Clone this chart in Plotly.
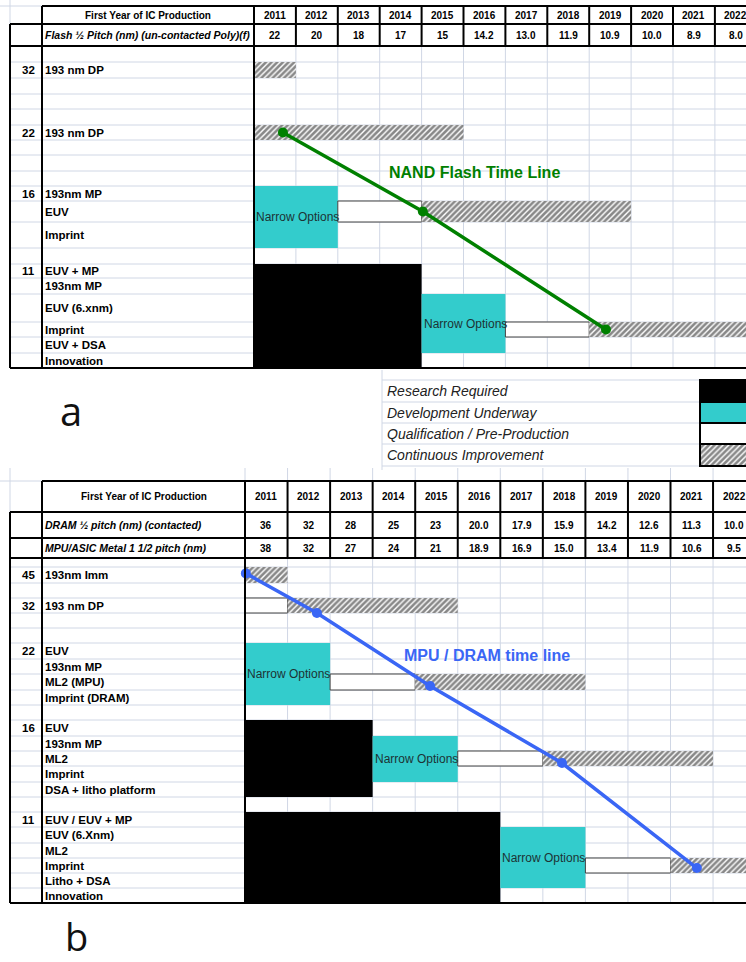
import plotly.graph_objects as go

W, H = 746, 962
FONT = "Liberation Sans, Arial, Helvetica, sans-serif"

# ------------------------------------------------------------------ data
YEARS = list(range(2011, 2023))
FLASH_HALF_PITCH = ["22", "20", "18", "17", "15", "14.2", "13.0", "11.9", "10.9", "10.0", "8.9", "8.0"]
DRAM_HALF_PITCH = ["36", "32", "28", "25", "23", "20.0", "17.9", "15.9", "14.2", "12.6", "11.3", "10.0"]
MPU_M1_HALF_PITCH = ["38", "32", "27", "24", "21", "18.9", "16.9", "15.0", "13.4", "11.9", "10.6", "9.5"]

# NAND flash option rows (node, option)
FLASH_NODES = ["", "32", "", "", "", "22", "", "", "", "16", "", "", "", "11", "", "", "", "", ""]
FLASH_OPTIONS = ["", "193 nm DP", "", "", "", "193 nm DP", "", "", "", "193nm MP", "EUV", "Imprint", "",
                 "EUV + MP", "193nm MP", "EUV (6.xnm)", "Imprint", "EUV + DSA", "Innovation"]

# MPU / DRAM option rows
MPU_NODES = ["", "45", "", "32", "", "", "22", "", "", "", "", "16", "", "", "", "", "",
             "11", "", "", "", "", ""]
MPU_OPTIONS = ["", "193nm Imm", "", "193 nm DP", "", "", "EUV", "193nm MP", "ML2 (MPU)", "Imprint (DRAM)", "",
               "EUV", "193nm MP", "ML2", "Imprint", "DSA + litho platform", "",
               "EUV / EUV + MP", "EUV (6.Xnm)", "ML2", "Imprint", "Litho + DSA", "Innovation"]

# status bars: (first row, last row, first year, last year, status)
FLASH_BARS = [
    (1, 1, 2011, 2011, "cont"),
    (5, 5, 2011, 2015, "cont"),
    (9, 11, 2011, 2012, "dev"),
    (10, 10, 2013, 2014, "qual"),
    (10, 10, 2015, 2019, "cont"),
    (13, 18, 2011, 2014, "res"),
    (15, 17, 2015, 2016, "dev"),
    (16, 16, 2017, 2018, "qual"),
    (16, 16, 2019, 2022, "cont"),
]
MPU_BARS = [
    (1, 1, 2011, 2011, "cont"),
    (3, 3, 2011, 2011, "qual"),
    (3, 3, 2012, 2015, "cont"),
    (6, 9, 2011, 2012, "dev"),
    (8, 8, 2013, 2014, "qual"),
    (8, 8, 2015, 2018, "cont"),
    (11, 15, 2011, 2013, "res"),
    (12, 14, 2014, 2015, "dev"),
    (13, 13, 2016, 2017, "qual"),
    (13, 13, 2018, 2021, "cont"),
    (17, 22, 2011, 2016, "res"),
    (18, 21, 2017, 2018, "dev"),
    (20, 20, 2019, 2020, "qual"),
    (20, 20, 2021, 2022, "cont"),
]

# time lines: year, option row, position inside the row
FLASH_TL_YEAR = [2011.69, 2015.03, 2019.40]
FLASH_TL_ROW = [5, 10, 16]
FLASH_TL_POS = [0.5, 0.5, 0.5]
MPU_TL_YEAR = [2011.02, 2012.69, 2015.35, 2018.45, 2021.62]
MPU_TL_ROW = [1, 3, 8, 13, 20]
MPU_TL_POS = [0.4, 1.0, 0.75, 0.8, 0.67]

STATUS_ORDER = ["res", "dev", "qual", "cont"]
STATUS_LABELS = ["Research Required", "Development Underway",
                 "Qualification / Pre-Production", "Continuous Improvement"]

# ------------------------------------------------------------------ layout
GRID = "#d0d7e5"
CYAN = "#33cccc"
HATCH = dict(shape="/", fgcolor="#111111", bgcolor="#ffffff", size=4, solidity=0.65)

PANEL_A = dict(xaxis="x", chart_x=254, col_w=41.9, head=[6, 24, 46],
               row_h=[16, 16, 16, 15, 16, 15, 15, 16, 15, 15, 21, 26, 16, 14, 16, 28, 15, 16, 15])
PANEL_B = dict(xaxis="x2", chart_x=245, col_w=42.55, head=[481, 512, 538, 558],
               row_h=[9, 16, 15, 15, 15, 15, 16, 15, 16, 15, 15, 16, 15, 15, 16, 15, 15, 15, 16, 15, 15, 15, 15])
OUTER_X, NODE_X = 10, 42

fig = go.Figure()
shapes, annos = [], []


def line(x0, y0, x1, y1, color="#000", width=2, xref="paper", layer="above"):
    if xref == "paper":
        x0, x1 = x0 / W, x1 / W
    shapes.append(dict(type="line", xref=xref, yref="y", x0=x0, x1=x1, y0=y0, y1=y1,
                       line=dict(color=color, width=width), layer=layer))


def text(x, y, s, size=11, bold=True, italic=False, anchor="center", color="#000", xref="paper", xshift=0):
    if xref == "paper":
        x = x / W
    annos.append(dict(x=x, y=y, xref=xref, yref="y", text=s, showarrow=False, xanchor=anchor,
                      yanchor="middle", xshift=xshift, borderpad=0,
                      font=dict(family=FONT, size=size, color=color,
                                weight="bold" if bold else "normal",
                                style="italic" if italic else "normal")))


def bar_marker(status):
    if status == "res":
        return dict(color="#000000", line=dict(width=0))
    if status == "dev":
        return dict(color=CYAN, line=dict(width=0))
    if status == "qual":
        return dict(color="#ffffff", line=dict(color="#404040", width=1))
    return dict(color="#ffffff", pattern=HATCH, line=dict(width=0))


def build_panel(p, header_rows, nodes, options, bars, tl_year, tl_row, tl_pos, tl_color, tl_label, tl_label_at):
    xa = p["xaxis"]
    head = p["head"]
    edges = [head[-1]]
    for h in p["row_h"]:
        edges.append(edges[-1] + h)
    top, body_top, bottom = head[0], head[-1], edges[-1]

    # light spreadsheet grid
    for y in edges[1:-1]:
        line(OUTER_X, y, W, y, GRID, 1, layer="below")
    for yr in YEARS[1:] + [YEARS[-1] + 1]:
        line(yr, body_top, yr, bottom, GRID, 1, xref=xa, layer="below")

    # status bars
    for st in STATUS_ORDER:
        sel = [b for b in bars if b[4] == st]
        fig.add_trace(go.Bar(
            orientation="h", xaxis=xa, yaxis="y",
            y=[(edges[b[0]] + edges[b[1] + 1]) / 2 for b in sel],
            width=[edges[b[1] + 1] - edges[b[0]] for b in sel],
            base=[b[2] for b in sel],
            x=[b[3] - b[2] + 1 for b in sel],
            marker=bar_marker(st), showlegend=False, hoverinfo="skip"))
        if st == "dev":
            for b in sel:
                text(b[2], (edges[b[0]] + edges[b[1] + 1]) / 2, "Narrow Options", size=12, bold=False,
                     anchor="left", color="#1d3334", xref=xa, xshift=1)

    # time line
    fig.add_trace(go.Scatter(
        x=tl_year, xaxis=xa, yaxis="y",
        y=[edges[r] + f * (edges[r + 1] - edges[r]) for r, f in zip(tl_row, tl_pos)],
        mode="lines+markers", line=dict(color=tl_color, width=3.5),
        marker=dict(color=tl_color, size=10), showlegend=False, hoverinfo="skip"))
    text(tl_label_at[0], tl_label_at[1], tl_label, size=16, color=tl_color, xref=xa)

    # header block
    label_mid = (NODE_X + p["chart_x"]) / 2
    for i, (label, vals) in enumerate(header_rows):
        yc = (head[i] + head[i + 1]) / 2
        if i == 0:
            text(label_mid, yc, label, size=10)
        else:
            text(NODE_X + 2, yc, label, size=10.5, italic=True, anchor="left")
        for yr, v in zip(YEARS, vals):
            text(yr + 0.5, yc, v, size=10, xref=xa)

    # option rows
    for i, (n, o) in enumerate(zip(nodes, options)):
        yc = (edges[i] + edges[i + 1]) / 2
        if n:
            text(36, yc, n, size=11.5, anchor="right")
        if o:
            text(NODE_X + 2, yc, o, size=11.5, anchor="left")

    # table borders
    for y in head:
        x0 = NODE_X if y == top else OUTER_X
        line(x0, y, W, y)
    line(OUTER_X, bottom, W, bottom)
    line(OUTER_X, head[1], OUTER_X, bottom)
    line(NODE_X, top, NODE_X, bottom)
    line(p["chart_x"], top, p["chart_x"], bottom)
    for yr in YEARS[1:] + [YEARS[-1] + 1]:
        line(yr, top, yr, body_top, xref=xa)
    return edges


build_panel(PANEL_A,
            [("First Year of IC Production", [str(y) for y in YEARS]),
             ("Flash ½ Pitch (nm) (un-contacted Poly)(f)", FLASH_HALF_PITCH)],
            FLASH_NODES, FLASH_OPTIONS, FLASH_BARS,
            FLASH_TL_YEAR, FLASH_TL_ROW, FLASH_TL_POS, "#008000",
            "NAND Flash Time Line", (2016.26, 172))

build_panel(PANEL_B,
            [("First Year of IC Production", [str(y) for y in YEARS]),
             ("DRAM ½ pitch (nm) (contacted)", DRAM_HALF_PITCH),
             ("MPU/ASIC Metal 1 1/2 pitch (nm)", MPU_M1_HALF_PITCH)],
            MPU_NODES, MPU_OPTIONS, MPU_BARS,
            MPU_TL_YEAR, MPU_TL_ROW, MPU_TL_POS, "#3a66f5",
            "MPU / DRAM time line", (2016.68, 655))

# spreadsheet grid outside the tables
line(OUTER_X, 0, OUTER_X, 24, GRID, 1, layer="below")
line(0, 6, NODE_X, 6, GRID, 1, layer="below")
line(OUTER_X, 468, OUTER_X, 512, GRID, 1, layer="below")
line(0, 481, NODE_X, 481, GRID, 1, layer="below")
for yr in YEARS:
    line(yr, 468, yr, 481, GRID, 1, xref="x2", layer="below")

# status key
KEY_X, KEY_SW, KEY_EDGES = 382, 700, [380, 402, 423, 444, 466]
line(KEY_X, 370, KEY_X, 470, GRID, 1, layer="below")
for y in KEY_EDGES:
    line(KEY_X, y, KEY_SW, y, GRID, 1, layer="below")
for i, (st, lab) in enumerate(zip(STATUS_ORDER, STATUS_LABELS)):
    yc = (KEY_EDGES[i] + KEY_EDGES[i + 1]) / 2
    mk = bar_marker(st)
    mk["line"] = dict(color="#000000", width=2)
    fig.add_trace(go.Bar(orientation="h", xaxis="x3", yaxis="y", y=[yc], base=[KEY_SW], x=[80],
                         width=[KEY_EDGES[i + 1] - KEY_EDGES[i]], marker=mk,
                         showlegend=False, hoverinfo="skip"))
    text(KEY_X + 4, yc, lab, size=14, bold=False, italic=True, anchor="left", color="#222222")

# panel letters
annos.append(dict(x=71 / W, y=410, xref="paper", yref="y", text="a", showarrow=False,
                  xanchor="center", yanchor="middle",
                  font=dict(family="Open Sans, Lato, sans-serif", size=40, color="#111111")))
annos.append(dict(x=76 / W, y=961, xref="paper", yref="y", text="b", showarrow=False,
                  xanchor="center", yanchor="bottom", yshift=-3,
                  font=dict(family="Open Sans, Lato, sans-serif", size=38, color="#111111")))

a_range = [2011 - PANEL_A["chart_x"] / PANEL_A["col_w"], 2011 + (W - PANEL_A["chart_x"]) / PANEL_A["col_w"]]
b_range = [2011 - PANEL_B["chart_x"] / PANEL_B["col_w"], 2011 + (W - PANEL_B["chart_x"]) / PANEL_B["col_w"]]
hidden = dict(visible=False, showgrid=False, zeroline=False, fixedrange=True, domain=[0, 1])

fig.update_layout(
    width=W, height=H, autosize=False,
    margin=dict(l=0, r=0, t=0, b=0, pad=0),
    paper_bgcolor="#ffffff", plot_bgcolor="#ffffff",
    barmode="overlay", showlegend=False,
    xaxis=dict(range=a_range, **hidden),
    xaxis2=dict(range=b_range, overlaying="x", anchor="y", **hidden),
    xaxis3=dict(range=[0, W], overlaying="x", anchor="y", **hidden),
    yaxis=dict(range=[H, 0], **hidden),
    shapes=shapes, annotations=annos,
)

fig.write_html("out.html", config={"displayModeBar": False, "staticPlot": True},
               post_script="document.body.style.margin='0';")
